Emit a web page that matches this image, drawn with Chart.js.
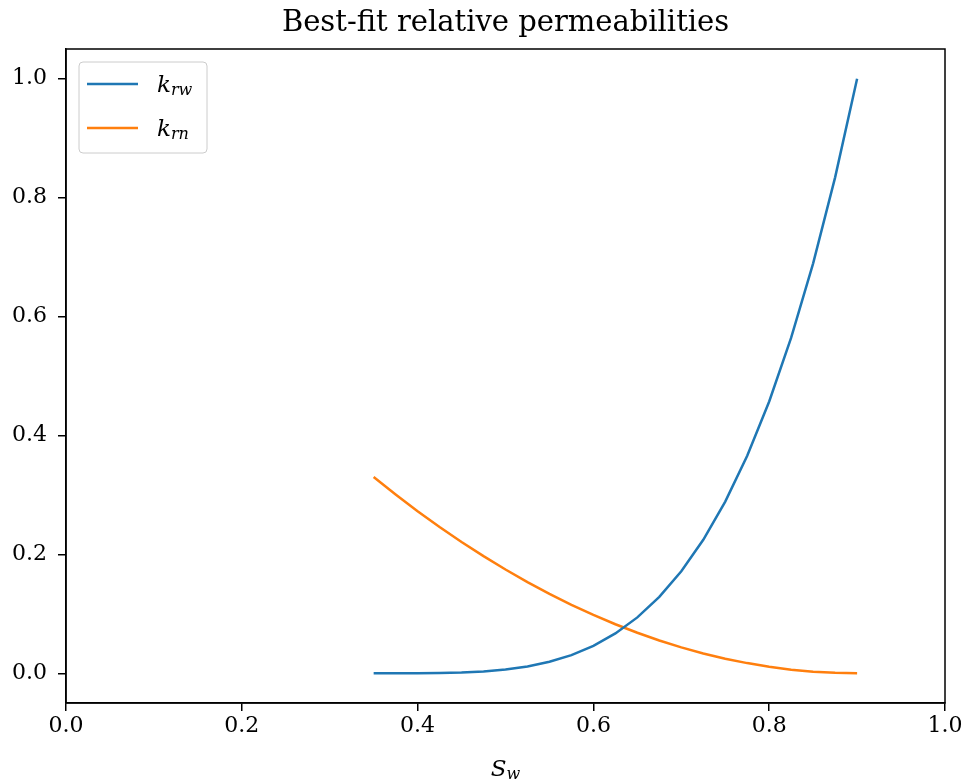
<!DOCTYPE html>
<html>
<head>
<meta charset="utf-8">
<title>Best-fit relative permeabilities</title>
<script src="https://cdn.jsdelivr.net/npm/chart.js@4/dist/chart.umd.min.js"></script>
<style>
  html, body { margin: 0; padding: 0; background: #fff; }
  #wrap { width: 967px; height: 781px; position: relative; }
</style>
</head>
<body>
<div id="wrap"><canvas id="myChart" width="967" height="781"></canvas></div>
<script>
// water saturation samples
var sw = [0.35, 0.375, 0.4, 0.425, 0.45, 0.475, 0.5, 0.525, 0.55, 0.575, 0.6, 0.625,
          0.65, 0.675, 0.7, 0.725, 0.75, 0.775, 0.8, 0.825, 0.85, 0.875, 0.9];
// wetting phase rel. perm (blue)
var krw = [0, 0.0000, 0.0001, 0.0004, 0.0013, 0.0031, 0.0063, 0.0115, 0.0193, 0.0306, 0.0462, 0.0670,
           0.0940, 0.1285, 0.1716, 0.2245, 0.2888, 0.3660, 0.4571, 0.5645, 0.6895, 0.8341, 1.0];
// non-wetting phase rel. perm (orange)
var krn = [0.33, 0.3007, 0.2727, 0.2461, 0.2209, 0.1970, 0.1745, 0.1534, 0.1336, 0.1152, 0.0982, 0.0825,
           0.0682, 0.0552, 0.0436, 0.0334, 0.0245, 0.0171, 0.0109, 0.0061, 0.0027, 0.0007, 0];

var xTicks = [0.0, 0.2, 0.4, 0.6, 0.8, 1.0];
var yTicks = [0.0, 0.2, 0.4, 0.6, 0.8, 1.0];

var titleText = 'Best-fit relative permeabilities';
var serif = '"DejaVu Serif", serif';

function toPoints(ys) {
    return sw.map(function (x, i) { return { x: x, y: ys[i] }; });
}

// text with a smaller subscript, like matplotlib mathtext
function drawSub(ctx, main, sub, x, y, size, align) {
    ctx.font = 'italic ' + size + 'px ' + serif;
    var w1 = ctx.measureText(main).width;
    ctx.font = 'italic ' + Math.round(size * 0.7) + 'px ' + serif;
    var w2 = ctx.measureText(sub).width;
    var start = align === 'center' ? x - (w1 + w2) / 2 : x;
    ctx.textAlign = 'left';
    ctx.textBaseline = 'alphabetic';
    ctx.font = 'italic ' + size + 'px ' + serif;
    ctx.fillText(main, start, y);
    ctx.font = 'italic ' + Math.round(size * 0.7) + 'px ' + serif;
    ctx.fillText(sub, start + w1, y + size * 0.15);
}

var decor = {
    id: 'decor',
    afterDraw: function (chart) {
        var ctx = chart.ctx, a = chart.chartArea;
        ctx.save();
        // spines all round
        ctx.strokeStyle = '#000';
        ctx.lineWidth = 1.5;
        ctx.strokeRect(a.left, a.top, a.right - a.left, a.bottom - a.top);

        // title
        ctx.fillStyle = '#000';
        ctx.font = '29px ' + serif;
        ctx.textAlign = 'center';
        ctx.textBaseline = 'alphabetic';
        ctx.fillText(titleText, (a.left + a.right) / 2, 31);

        // x axis label
        drawSub(ctx, 'S', 'w', (a.left + a.right) / 2, 776, 23, 'center');

        // legend
        var bx = a.left + 13, by = a.top + 13, bw = 128, bh = 91;
        ctx.fillStyle = 'rgba(255,255,255,0.8)';
        ctx.strokeStyle = '#cccccc';
        ctx.lineWidth = 1;
        ctx.beginPath();
        ctx.roundRect(bx, by, bw, bh, 4);
        ctx.fill();
        ctx.stroke();
        var items = chart.data.datasets;
        for (var i = 0; i < items.length; i++) {
            var ly = by + 22 + i * 44;
            ctx.strokeStyle = items[i].borderColor;
            ctx.lineWidth = 2.5;
            ctx.beginPath();
            ctx.moveTo(bx + 8, ly);
            ctx.lineTo(bx + 59, ly);
            ctx.stroke();
            ctx.fillStyle = '#000';
            drawSub(ctx, 'k', items[i].sub, bx + 78, ly + 8, 23, 'left');
        }
        ctx.restore();
    }
};

var ctx = document.getElementById('myChart').getContext('2d');
var myChart = new Chart(ctx, {
    type: 'line',
    data: {
        datasets: [{
            label: 'k_rw',
            sub: 'rw',
            data: toPoints(krw),
            borderColor: '#1f77b4',
            borderWidth: 2.5,
            pointRadius: 0,
            fill: false
        }, {
            label: 'k_rn',
            sub: 'rn',
            data: toPoints(krn),
            borderColor: '#ff7f0e',
            borderWidth: 2.5,
            pointRadius: 0,
            fill: false
        }]
    },
    options: {
        responsive: false,
        animation: false,
        layout: { padding: { top: 49, right: 22, left: 0, bottom: 0 } },
        plugins: {
            legend: { display: false },
            tooltip: { enabled: false }
        },
        scales: {
            x: {
                type: 'linear',
                min: 0,
                max: 1,
                afterFit: function (s) { s.height = 78; },
                afterBuildTicks: function (s) { s.ticks = xTicks.map(function (v) { return { value: v }; }); },
                grid: { drawOnChartArea: false, drawTicks: true, tickLength: 8, color: '#000', lineWidth: 1.5 },
                border: { display: true, color: '#000', width: 1.5 },
                ticks: {
                    color: '#000',
                    padding: 2,
                    maxRotation: 0,
                    font: { family: serif, size: 22 },
                    callback: function (v) { return v.toFixed(1); }
                }
            },
            y: {
                type: 'linear',
                min: -0.05,
                max: 1.05,
                afterFit: function (s) { s.width = 66; },
                afterBuildTicks: function (s) { s.ticks = yTicks.map(function (v) { return { value: v }; }); },
                grid: { drawOnChartArea: false, drawTicks: true, tickLength: 8, color: '#000', lineWidth: 1.5 },
                border: { display: true, color: '#000', width: 1.5 },
                ticks: {
                    color: '#000',
                    padding: 11,
                    font: { family: serif, size: 22 },
                    callback: function (v) { return v.toFixed(1); }
                }
            }
        }
    },
    plugins: [decor]
});
</script>
</body>
</html>
